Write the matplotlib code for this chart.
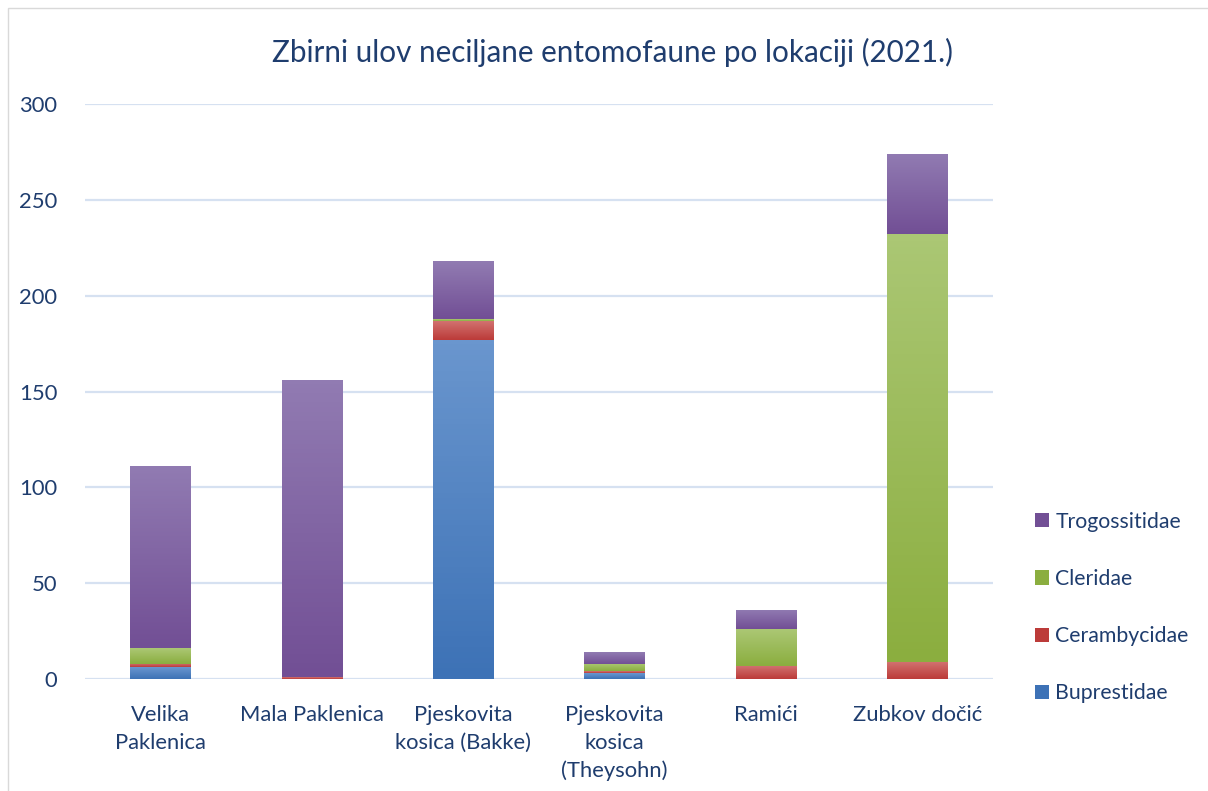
import numpy as np
import matplotlib
matplotlib.use("Agg")
import matplotlib.pyplot as plt
from matplotlib.colors import LinearSegmentedColormap
from matplotlib.patches import Rectangle, Patch

plt.rcParams['font.family'] = ['Lato', 'DejaVu Sans']

lokacije = ["Velika\nPaklenica", "Mala Paklenica", "Pjeskovita\nkosica (Bakke)",
            "Pjeskovita\nkosica\n(Theysohn)", "Ramići", "Zubkov dočić"]
buprestidae = [6, 0, 177, 3, 0, 0]
cerambycidae = [2, 1, 10, 1, 7, 9]
cleridae = [8, 0, 1, 4, 19, 223]
trogossitidae = [95, 155, 30, 6, 10, 42]

serije = [("Buprestidae", buprestidae, "#6A96CE", "#3D72B6"),
          ("Cerambycidae", cerambycidae, "#D27472", "#BC3B39"),
          ("Cleridae", cleridae, "#ABC774", "#8BAE3F"),
          ("Trogossitidae", trogossitidae, "#917BB2", "#724F95")]

txt = "#1F3D6E"
fig = plt.figure(figsize=(12.08, 7.91), dpi=100)
ax = fig.add_axes([0.0704, 0.1416, 0.7516, 0.7269])

x = np.arange(len(lokacije))
w = 0.4
dno = np.zeros(len(lokacije))
grad = np.linspace(1, 0, 64).reshape(-1, 1)
for ime, vals, c_top, c_bot in serije:
    vals = np.array(vals, dtype=float)
    bars = ax.bar(x, vals, w, bottom=dno, color=c_bot, zorder=3, linewidth=0)
    cmap = LinearSegmentedColormap.from_list(ime, [c_bot, c_top])
    for b in bars:
        if b.get_height() <= 0:
            continue
        bx, by = b.get_x(), b.get_y()
        im = ax.imshow(grad, cmap=cmap, aspect="auto", zorder=3.5,
                       extent=[bx, bx + b.get_width(), by, by + b.get_height()],
                       origin="upper", vmin=0, vmax=1)
        im.set_clip_path(b)
    dno += vals

ax.set_xlim(-0.5, len(lokacije) - 0.5)
ax.set_ylim(0, 300)
ax.set_yticks(range(0, 301, 50))
ax.grid(axis="y", color="#D6E1F1", linewidth=1.6, zorder=0)
for s in ax.spines.values():
    s.set_visible(False)
ax.tick_params(length=0, labelsize=15.8, colors=txt)
ax.tick_params(axis="x", pad=19)
ax.tick_params(axis="y", pad=20)
ax.set_xticks(x)
ax.set_xticklabels(lokacije, linespacing=1.45)

fig.text(613 / 1208, 1 - 52 / 791, "Zbirni ulov neciljane entomofaune po lokaciji (2021.)",
         fontsize=21.3, color=txt, ha="center", va="center")

handles = [Patch(facecolor=s[3], label=s[0]) for s in serije][::-1]
fig.legend(handles=handles, loc="center left", bbox_to_anchor=(0.841, 0.232),
           frameon=False, fontsize=15.3, labelcolor=txt, handlelength=0.65,
           handleheight=0.65, handletextpad=0.3, labelspacing=1.75)

fig.patches.append(Rectangle((8 / 1208, -0.01), 1.1, 1 - 8 / 791 + 0.01,
                             transform=fig.transFigure, fill=False,
                             edgecolor="#D9D9D9", linewidth=1))

fig.savefig("out.png", dpi=100)
